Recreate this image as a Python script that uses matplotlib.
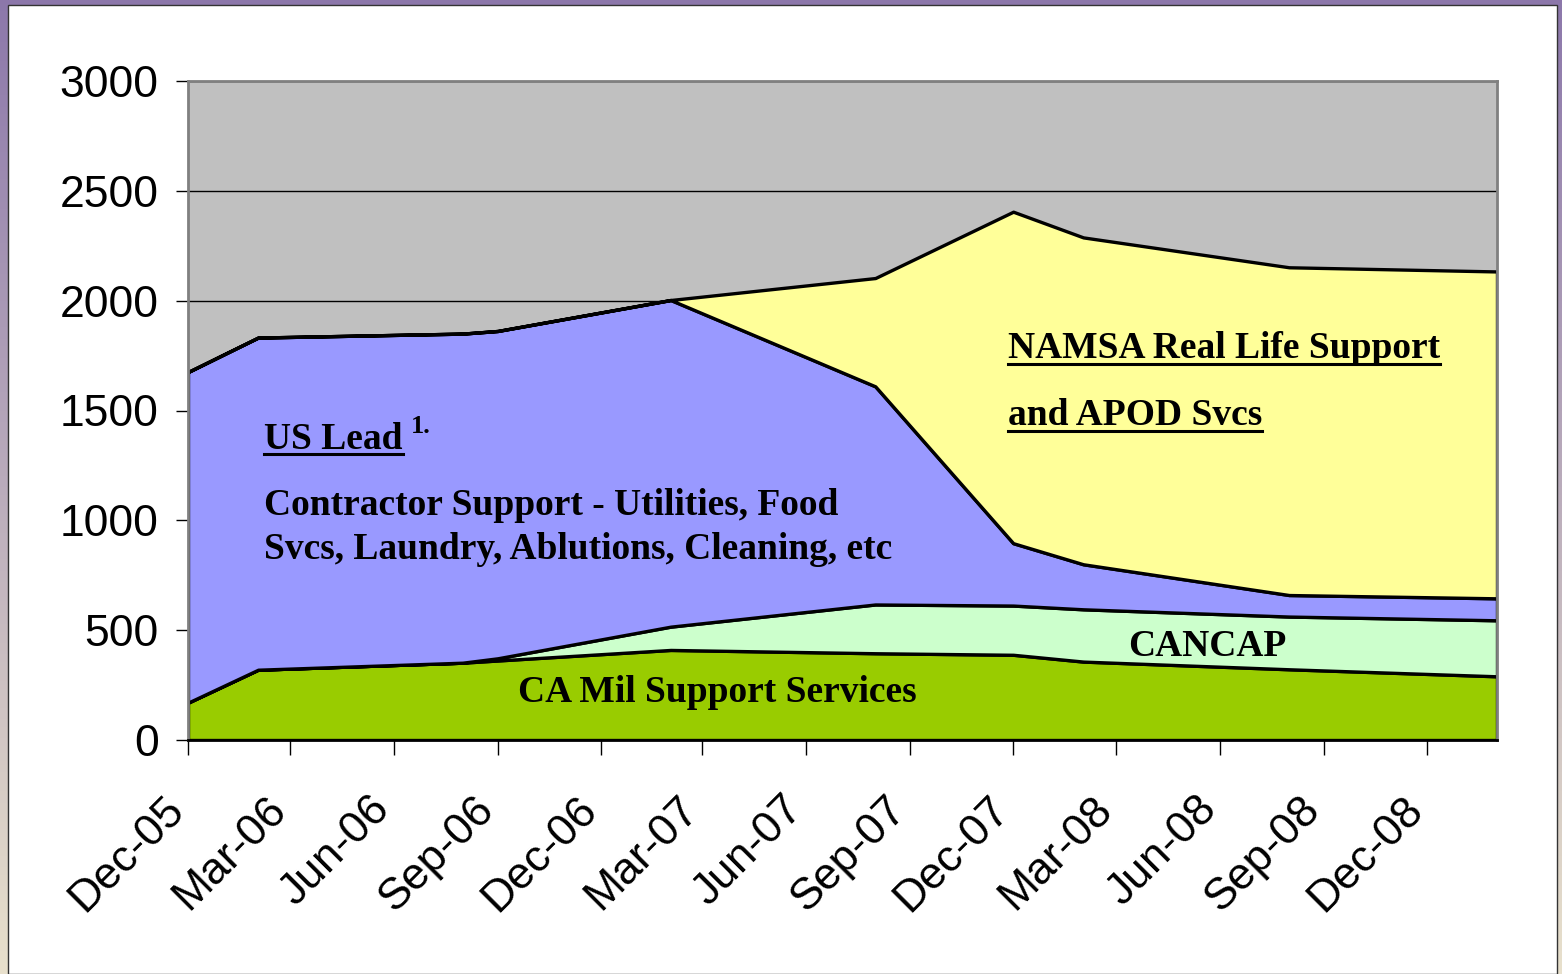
"""
Stacked area chart of support services headcount, Dec-05 to Feb-09
"""
import datetime as dt
import numpy as np
import matplotlib.pyplot as plt
import matplotlib.dates as mdates
import matplotlib.transforms as mtransforms
from matplotlib.patches import Rectangle
from matplotlib.lines import Line2D

# data points (first of month) and layer values, bottom to top
dates = [dt.date(2005, 12, 1), dt.date(2006, 2, 1), dt.date(2006, 8, 1), dt.date(2006, 9, 1),
         dt.date(2007, 2, 1), dt.date(2007, 8, 1), dt.date(2007, 12, 1), dt.date(2008, 2, 1),
         dt.date(2008, 8, 1), dt.date(2009, 2, 1)]
ca_mil = [170, 320, 352, 362, 410, 395, 388, 357, 322, 290]
cancap = [0, 0, 0, 10, 106, 222, 224, 238, 240, 255]
us_lead = [1505, 1512, 1498, 1490, 1487, 993, 284, 205, 98, 100]
namsa = [0, 0, 0, 0, 0, 493, 1509, 1488, 1492, 1488]

tick_dates = [dt.date(2005, 12, 1), dt.date(2006, 3, 1), dt.date(2006, 6, 1), dt.date(2006, 9, 1),
              dt.date(2006, 12, 1), dt.date(2007, 3, 1), dt.date(2007, 6, 1), dt.date(2007, 9, 1),
              dt.date(2007, 12, 1), dt.date(2008, 3, 1), dt.date(2008, 6, 1), dt.date(2008, 9, 1),
              dt.date(2008, 12, 1)]
y_ticks = [0, 500, 1000, 1500, 2000, 2500, 3000]

colors = ['#99CC00', '#CCFFCC', '#9999FF', '#FFFF99']

W, H = 1562, 974
fig = plt.figure(figsize=(W / 100, H / 100), dpi=100)

# slide-like background: purple/beige gradient strip with a white panel
bg = fig.add_axes([0, 0, 1, 1], zorder=-10)
grad = np.linspace(0, 1, 256)[:, None, None]
top_c = np.array([0.55, 0.47, 0.67])
bot_c = np.array([0.91, 0.88, 0.80])
bg.imshow(top_c + (bot_c - top_c) * grad, aspect='auto', extent=[0, 1, 0, 1])
bg.set_xlim(0, 1)
bg.set_ylim(0, 1)
bg.axis('off')
bg.add_patch(Rectangle((8 / W, 0), (1557 - 8) / W, 1 - 5 / H, facecolor='white',
                       edgecolor='#333333', linewidth=1))


def px(x, y):
    # pixel position -> figure fraction
    return x / W, 1 - y / H


x0, y0 = px(188, 740)
ax = fig.add_axes([x0, y0, (1497 - 188) / W, (740 - 81) / H])
ax.set_facecolor('#C0C0C0')

xs = mdates.date2num(dates)
ax.stackplot(xs, ca_mil, cancap, us_lead, namsa, colors=colors,
             edgecolor='black', linewidth=2.4, zorder=2)

ax.set_xlim(mdates.date2num(dt.date(2005, 12, 1)), mdates.date2num(dt.date(2009, 2, 1)))
ax.set_ylim(0, 3000)
ax.set_yticks(y_ticks)
ax.set_xticks(mdates.date2num(tick_dates))
ax.set_xticklabels([])
ax.set_axisbelow(True)
ax.yaxis.grid(True, color='black', linewidth=1)

tick_font = ['Liberation Sans Narrow', 'Liberation Sans', 'DejaVu Sans']
for lab in ax.get_yticklabels():
    lab.set_fontfamily(tick_font)
    lab.set_fontsize(32)
ax.tick_params(axis='y', length=9, width=1, pad=12, direction='out')
ax.tick_params(axis='x', length=11, width=1, direction='out')

# rotated date labels, right end just left of each tick
xlab_tr = ax.get_xaxis_transform() + mtransforms.ScaledTranslation(-10 / 100, -63 / 100,
                                                                     fig.dpi_scale_trans)
for d in tick_dates:
    ax.text(mdates.date2num(d), 0, d.strftime('%b-%y'), transform=xlab_tr, rotation=45,
            ha='right', va='center', rotation_mode='anchor', family=tick_font, fontsize=32,
            clip_on=False)

for side in ['top', 'right', 'left']:
    ax.spines[side].set_color('#808080')
    ax.spines[side].set_linewidth(2)
ax.spines['bottom'].set_color('black')
ax.spines['bottom'].set_linewidth(2)

# annotations
serif = ['Liberation Serif', 'DejaVu Serif']
fs = 27
labels = []
labels.append((fig.text(*px(264, 449), 'US Lead', family=serif, weight='bold', fontsize=fs,
                        va='baseline'), 454))
fig.text(*px(411, 433), '1.', family=serif, weight='bold', fontsize=19, va='baseline')
fig.text(*px(264, 515), 'Contractor Support - Utilities, Food', family=serif, weight='bold',
         fontsize=fs, va='baseline')
fig.text(*px(264, 559), 'Svcs, Laundry, Ablutions, Cleaning, etc', family=serif, weight='bold',
         fontsize=fs, va='baseline')
labels.append((fig.text(*px(1008, 358), 'NAMSA Real Life Support', family=serif, weight='bold',
                        fontsize=fs, va='baseline'), 364))
labels.append((fig.text(*px(1008, 425), 'and APOD Svcs', family=serif, weight='bold',
                        fontsize=fs, va='baseline'), 431))
fig.text(*px(1128, 656), 'CANCAP', family=serif, weight='bold', fontsize=fs, va='baseline')
fig.text(*px(518, 702), 'CA Mil Support Services', family=serif, weight='bold', fontsize=fs,
         va='baseline')

# underline the headings
fig.canvas.draw()
renderer = fig.canvas.get_renderer()
for txt, uy in labels:
    bb = txt.get_window_extent(renderer)
    fig.add_artist(Line2D([bb.x0 / W, bb.x1 / W], [1 - uy / H, 1 - uy / H],
                          color='black', linewidth=2.2))

fig.savefig('out.png', dpi=100)
